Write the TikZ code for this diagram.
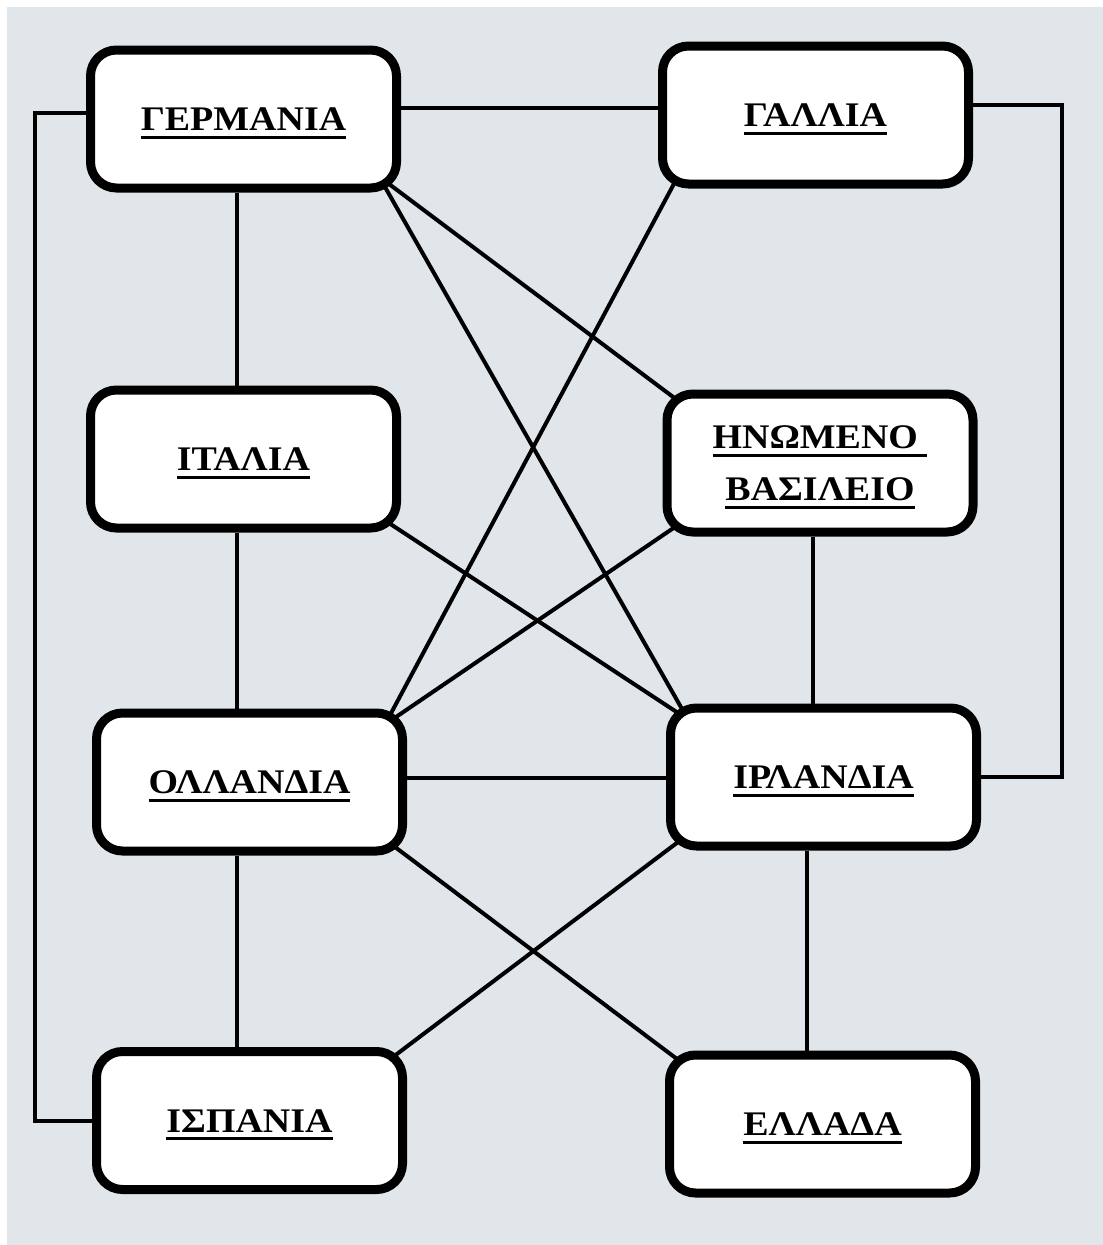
\documentclass[tikz,border=0pt]{standalone}
\usepackage{fontspec}
\setmainfont{Liberation Serif}[FakeStretch=1.1]
\usetikzlibrary{calc}
\definecolor{bggray}{RGB}{224,230,233}
\pgfdeclarelayer{bg}
\pgfdeclarelayer{lines}
\pgfsetlayers{bg,lines,main}
\newcommand\ulw[1]{\setbox0\hbox{#1}\rlap{\rule[-8pt]{\wd0}{3pt}}\rule{0pt}{31pt}\box0}
\tikzset{
  box/.style={draw, line width=9pt, fill=white, rounded corners=26pt,
    minimum width=306pt, minimum height=138pt, inner sep=0pt, align=center,
    font=\bfseries\fontsize{34.5}{52}\selectfont},
  conn/.style={line width=4pt, line join=miter}
}
\begin{document}
\begin{tikzpicture}[x=1pt,y=-1pt]
\useasboundingbox (0,0) rectangle (1103,1245);
\node[box] (ger) at (243.5,119) {\ulw{ΓΕΡΜΑΝΙΑ}};
\node[box] (gal) at (815.5,115) {\ulw{ΓΑΛΛΙΑ}};
\node[box] (ita) at (243.5,459) {\ulw{ΙΤΑΛΙΑ}};
\node[box] (uk)  at (820,463) {\ulw{ΗΝΩΜΕΝΟ\ }\\\ulw{ΒΑΣΙΛΕΙΟ}};
\node[box] (hol) at (249.5,782) {\ulw{ΟΛΛΑΝΔΙΑ}};
\node[box] (irl) at (823.5,777) {\ulw{ΙΡΛΑΝΔΙΑ}};
\node[box] (spa) at (249.5,1120.5) {\ulw{ΙΣΠΑΝΙΑ}};
\node[box] (gre) at (822.5,1124) {\ulw{ΕΛΛΑΔΑ}};
\coordinate (lx) at (237,0);
\coordinate (rxa) at (813,0);
\coordinate (rxb) at (807,0);
\coordinate (ya) at (0,108);
\coordinate (yb) at (0,778);
\coordinate (farL) at (35,0);
\coordinate (farR) at (1062,0);
\begin{pgfonlayer}{bg}
  \fill[white] (0,0) rectangle (1103,1245);
  \fill[bggray] (7,7) rectangle (1103,1245);
\end{pgfonlayer}
\begin{pgfonlayer}{lines}
  \draw[conn] (ger.east |- ya) -- (gal.west |- ya);
  \draw[conn] (hol.east |- yb) -- (irl.west |- yb);
  \draw[conn] ([yshift=6pt]ger.west) -- ([yshift=6pt]ger.west -| farL) -- (spa.west -| farL) -- (spa.west);
  \draw[conn] ([yshift=10pt]gal.east) -- ([yshift=10pt]gal.east -| farR) -- (irl.east -| farR) -- (irl.east);
  \draw[conn] (ger.south -| lx) -- (ita.north -| lx);
  \draw[conn] (ita.south -| lx) -- (hol.north -| lx);
  \draw[conn] (hol.south -| lx) -- (spa.north -| lx);
  \draw[conn] (uk.south -| rxa) -- (irl.north -| rxa);
  \draw[conn] (irl.south -| rxb) -- (gre.north -| rxb);
  \draw[conn] ($(ger.south east)+(-22,-16)$) -- ($(uk.north west)+(22,16)$);
  \draw[conn] ($(ger.south east)+(-22,-16)$) -- ($(irl.north west)+(22,16)$);
  \draw[conn] ($(gal.south west)+(22,-16)$) -- ($(hol.north east)+(-22,16)$);
  \draw[conn] ($(uk.south west)+(22,-16)$) -- ($(hol.north east)+(-22,16)$);
  \draw[conn] ($(ita.south east)+(-22,-16)$) -- ($(irl.north west)+(22,16)$);
  \draw[conn] ($(hol.south east)+(-22,-16)$) -- ($(gre.north west)+(22,16)$);
  \draw[conn] ($(irl.south west)+(22,-16)$) -- ($(spa.north east)+(-22,16)$);
\end{pgfonlayer}
\end{tikzpicture}
\end{document}
